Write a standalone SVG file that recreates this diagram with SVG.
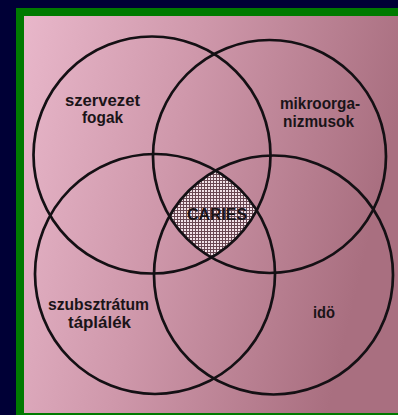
<svg xmlns="http://www.w3.org/2000/svg" width="398" height="415" viewBox="0 0 398 415">
  <style>
    .ring { fill: none; stroke: #141014; stroke-width: 2.7; }
    .lbl { font-family: "Liberation Sans", Arial, sans-serif; font-weight: bold; font-size: 16px; fill: #1a1418; }
  </style>
  <defs>
    <linearGradient id="paper" x1="0" y1="0" x2="1" y2="0.25">
      <stop offset="0" stop-color="#e8b7ca"/>
      <stop offset="0.45" stop-color="#cf98ab"/>
      <stop offset="1" stop-color="#a96f80"/>
    </linearGradient>
    <pattern id="hatch" width="3" height="3" patternUnits="userSpaceOnUse">
      <rect width="3" height="3" fill="#f2e2e8"/>
      <rect width="3" height="1" fill="#6a4853"/>
      <rect width="1" height="3" fill="#6a4853"/>
    </pattern>
    <clipPath id="cTL"><circle cx="152" cy="155" r="118.5"/></clipPath>
    <clipPath id="cTR"><circle cx="269.5" cy="156.5" r="116.5"/></clipPath>
    <clipPath id="cBL"><circle cx="155" cy="274" r="120"/></clipPath>
  </defs>
  <rect width="398" height="415" fill="#000036"/>
  <rect x="16" y="8" width="382" height="407" fill="#007a00"/>
  <rect x="24" y="16" width="374" height="397" fill="url(#paper)"/>

  <g id="caries-area" clip-path="url(#cTL)">
    <g clip-path="url(#cTR)">
      <g clip-path="url(#cBL)">
        <circle cx="273.5" cy="275" r="119.5" fill="url(#hatch)"/>
      </g>
    </g>
  </g>

  <g id="connectors"></g>

  <g id="node-szervezet">
    <circle class="ring" cx="152" cy="155" r="118.5"/>
    <text class="lbl" x="65" y="106" textLength="75" lengthAdjust="spacingAndGlyphs">szervezet</text>
    <text class="lbl" x="82" y="123" textLength="41" lengthAdjust="spacingAndGlyphs">fogak</text>
  </g>
  <g id="node-mikroorganizmusok">
    <circle class="ring" cx="269.5" cy="156.5" r="116.5"/>
    <text class="lbl" x="280" y="109" textLength="80" lengthAdjust="spacingAndGlyphs">mikroorga-</text>
    <text class="lbl" x="283" y="127" textLength="71" lengthAdjust="spacingAndGlyphs">nizmusok</text>
  </g>
  <g id="node-szubsztratum">
    <circle class="ring" cx="155" cy="274" r="120"/>
    <text class="lbl" x="48" y="310" textLength="101" lengthAdjust="spacingAndGlyphs">szubsztrátum</text>
    <text class="lbl" x="68" y="328" textLength="63" lengthAdjust="spacingAndGlyphs">táplálék</text>
  </g>
  <g id="node-ido">
    <circle class="ring" cx="273.5" cy="275" r="119.5"/>
    <text class="lbl" x="313" y="318" textLength="22" lengthAdjust="spacingAndGlyphs">idö</text>
  </g>
  <g id="node-caries">
    <text class="lbl" x="187" y="220" textLength="60" lengthAdjust="spacingAndGlyphs">CARIES</text>
  </g>
</svg>
